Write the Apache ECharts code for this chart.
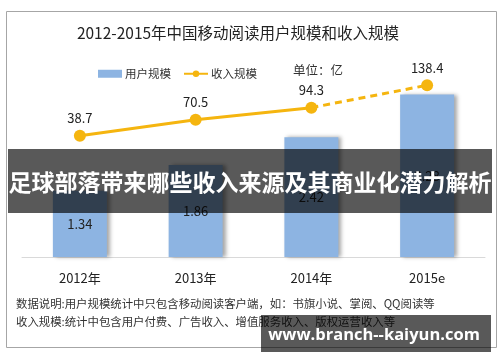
<!DOCTYPE html>
<html>
<head>
<meta charset="utf-8">
<script src="https://cdn.jsdelivr.net/npm/echarts@6/dist/echarts.min.js"></script>
<style>html,body{margin:0;padding:0;background:#fff;}#c{width:500px;height:362px;}</style>
</head>
<body>
<div id="c"></div>
<script>
var categories = ['2012年', '2013年', '2014年', '2015e'];
var userScale = [1.34, 1.86, 2.42, 3.28];
var revenue = [38.7, 70.5, 94.3, 138.4];
var actualCount = 3; // 2012-2014 actual (solid), 2015e forecast (dashed)
var titleText = '2012-2015年中国移动阅读用户规模和收入规模';
var unitText = '单位：亿';
var note1 = '数据说明:用户规模统计中只包含移动阅读客户端，如：书旗小说、掌阅、QQ阅读等';
var note2 = '收入规模:统计中包含用户付费、广告收入、增值服务收入、版权运营收入等';
var bannerText = '足球部落带来哪些收入来源及其商业化潜力解析';
var watermarkText = 'www.branch--kaiyun.com';

var FONT = '"Noto Sans CJK SC", "Noto Sans", sans-serif';
var LINE_COLOR = '#F5B50F';

var solidData = revenue.map(function (v, i) { return i < actualCount ? v : '-'; });
var dashedData = revenue.map(function (v, i) {
  if (i < actualCount - 1) return '-';
  if (i === actualCount - 1) return { value: v, symbol: 'none', label: { show: false } };
  return v;
});

var chart = echarts.init(document.getElementById('c'));
chart.setOption({
  animation: false,
  textStyle: { fontFamily: FONT },
  grid: { left: 22, right: 15, top: 54, bottom: 105 },
  legend: {
    left: 93, top: 63, itemGap: 12, itemWidth: 24, itemHeight: 8,
    textStyle: { fontSize: 11.5, color: '#333', fontFamily: FONT, padding: [0, 0, 0, -2] },
    data: [
      { name: '用户规模', icon: 'rect' },
      { name: '收入规模' }
    ]
  },
  xAxis: {
    type: 'category', data: categories,
    axisLine: { lineStyle: { color: '#d9d9d9', width: 1 } },
    axisTick: { show: false },
    axisLabel: { color: '#222', fontSize: 13, margin: 15, fontFamily: FONT }
  },
  yAxis: [
    { type: 'value', min: 0, max: 4.1, show: false, splitLine: { show: false } },
    { type: 'value', min: -200, max: 200, show: false, splitLine: { show: false } }
  ],
  series: [
    {
      name: '用户规模', type: 'bar', data: userScale, barWidth: 54, yAxisIndex: 0,
      itemStyle: { color: '#8DB4E2', shadowColor: 'rgba(0,0,0,0.35)', shadowBlur: 4, shadowOffsetX: 3, shadowOffsetY: 0 },
      label: { show: true, position: 'inside', color: '#222', fontSize: 13, fontFamily: FONT }
    },
    {
      name: '收入规模', type: 'line', data: solidData, yAxisIndex: 1,
      symbol: 'circle', symbolSize: 12,
      lineStyle: { color: LINE_COLOR, width: 3 },
      itemStyle: { color: LINE_COLOR },
      label: { show: true, position: 'top', color: '#222', fontSize: 13, distance: 5, fontFamily: FONT },
      z: 3
    },
    {
      name: '收入规模', type: 'line', data: dashedData, yAxisIndex: 1,
      symbol: 'circle', symbolSize: 12,
      lineStyle: { color: LINE_COLOR, width: 3, type: [7, 5] },
      itemStyle: { color: LINE_COLOR },
      label: { show: true, position: 'top', color: '#222', fontSize: 13, distance: 5, fontFamily: FONT },
      z: 3
    }
  ],
  graphic: [
    { type: 'rect', shape: { x: 6.5, y: 11.5, width: 490, height: 336 }, style: { fill: 'none', stroke: '#a6a6a6', lineWidth: 1 }, z: 0, silent: true },
    { type: 'text', x: 238, y: 33, style: { text: titleText, fontSize: 15.5, fill: '#222', fontFamily: FONT, textAlign: 'center', textVerticalAlign: 'middle' }, z: 10 },
    { type: 'text', x: 293, y: 70, style: { text: unitText, fontSize: 12.5, fill: '#333', fontFamily: FONT, textAlign: 'left', textVerticalAlign: 'middle' }, z: 10 },
    { type: 'text', x: 16, y: 304, style: { text: note1, fontSize: 11.4, fill: '#333', fontFamily: FONT, textAlign: 'left', textVerticalAlign: 'middle' }, z: 10 },
    { type: 'text', x: 16, y: 322, style: { text: note2, fontSize: 11.4, fill: '#333', fontFamily: FONT, textAlign: 'left', textVerticalAlign: 'middle' }, z: 10 },
    { type: 'rect', shape: { x: 8, y: 149, width: 484, height: 64 }, style: { fill: 'rgba(0,0,0,0.65)' }, z: 100, silent: true },
    { type: 'text', x: 250, y: 182, style: { text: bannerText, fontSize: 23, fontWeight: 'bold', fill: '#fff', fontFamily: FONT, textAlign: 'center', textVerticalAlign: 'middle' }, z: 101 },
    { type: 'rect', shape: { x: 261, y: 315, width: 230, height: 37 }, style: { fill: 'rgba(0,0,0,0.65)' }, z: 100, silent: true },
    { type: 'text', x: 374, y: 335, style: { text: watermarkText, fontSize: 16.5, fontWeight: 'bold', fill: '#fff', fontFamily: '"Open Sans", "DejaVu Sans", sans-serif', textAlign: 'center', textVerticalAlign: 'middle' }, z: 101 }
  ]
});
</script>
</body>
</html>
